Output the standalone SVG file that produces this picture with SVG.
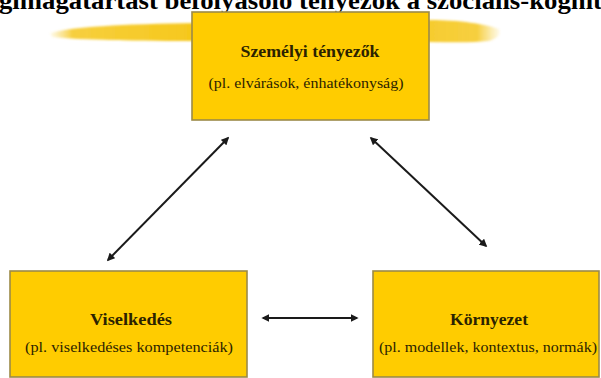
<svg xmlns="http://www.w3.org/2000/svg" width="601" height="378" viewBox="0 0 601 378">
  <style>
    .box { fill: #FFCC00; stroke: #9C8A48; stroke-width: 1.6; }
    .head { font-family: "Liberation Serif", "Times New Roman", serif; font-weight: bold; font-size: 17px; fill: #2B2300; text-anchor: middle; }
    .sub { font-family: "Liberation Serif", "Times New Roman", serif; font-size: 15.5px; fill: #2B2300; text-anchor: middle; }
    .title { font-family: "Liberation Serif", "Times New Roman", serif; font-weight: bold; font-size: 25px; fill: #000; }
    .link { stroke: #1A1A1A; stroke-width: 2; fill: none; marker-start: url(#tip); marker-end: url(#tip); }
  </style>
  <defs>
    <marker id="tip" viewBox="0 0 10 10" refX="8" refY="5" markerWidth="4" markerHeight="4" orient="auto-start-reverse" markerUnits="strokeWidth">
      <path d="M0,0 L10,5 L0,10 z" fill="#1A1A1A"/>
    </marker>
    <linearGradient id="brush" x1="0" y1="0" x2="1" y2="0">
      <stop offset="0" stop-color="#F7D24A" stop-opacity="0.1"/>
      <stop offset="0.05" stop-color="#F6CA2A" stop-opacity="0.9"/>
      <stop offset="0.5" stop-color="#F5C200"/>
      <stop offset="0.95" stop-color="#F6CA2A" stop-opacity="0.9"/>
      <stop offset="1" stop-color="#F7D24A" stop-opacity="0.1"/>
    </linearGradient>
    <filter id="soft" x="-5%" y="-50%" width="110%" height="200%">
      <feGaussianBlur stdDeviation="0.8"/>
    </filter>
  </defs>

  <rect width="601" height="378" fill="#FFFFFF"/>

  <!-- heading, running past both edges -->
  <text class="title" x="-1" y="9" textLength="603" lengthAdjust="spacingAndGlyphs">gimagatartást befolyásoló tényezők a szociális-kognit</text>

  <!-- painted brush stroke behind the top box -->
  <path d="M50,33 C70,27 120,24 200,23 L430,20 C460,20 485,24 499,29 C502,34 497,39 488,41 C470,43 450,42 430,42 L200,41 C140,41 80,40 52,37 Z" fill="url(#brush)" filter="url(#soft)"/>

  <g id="connectors">
    <line class="link" x1="228" y1="138" x2="108" y2="260"/>
    <line class="link" x1="371" y1="138" x2="486" y2="246"/>
    <line class="link" x1="263" y1="318" x2="357" y2="318"/>
  </g>

  <g id="szemelyi">
    <rect class="box" x="192" y="12" width="237" height="108"/>
    <text class="head" x="310" y="57" textLength="139" lengthAdjust="spacingAndGlyphs">Személyi tényezők</text>
    <text class="sub" x="306" y="88" textLength="195" lengthAdjust="spacingAndGlyphs">(pl. elvárások, énhatékonyság)</text>
  </g>

  <g id="viselkedes">
    <rect class="box" x="10" y="271" width="237" height="106"/>
    <text class="head" x="131" y="325" textLength="82" lengthAdjust="spacingAndGlyphs">Viselkedés</text>
    <text class="sub" x="129" y="352" textLength="208" lengthAdjust="spacingAndGlyphs">(pl. viselkedéses kompetenciák)</text>
  </g>

  <g id="kornyezet">
    <rect class="box" x="373" y="271" width="226" height="106"/>
    <text class="head" x="489" y="325" textLength="78" lengthAdjust="spacingAndGlyphs">Környezet</text>
    <text class="sub" x="488" y="352" textLength="218" lengthAdjust="spacingAndGlyphs">(pl. modellek, kontextus, normák)</text>
  </g>
</svg>
